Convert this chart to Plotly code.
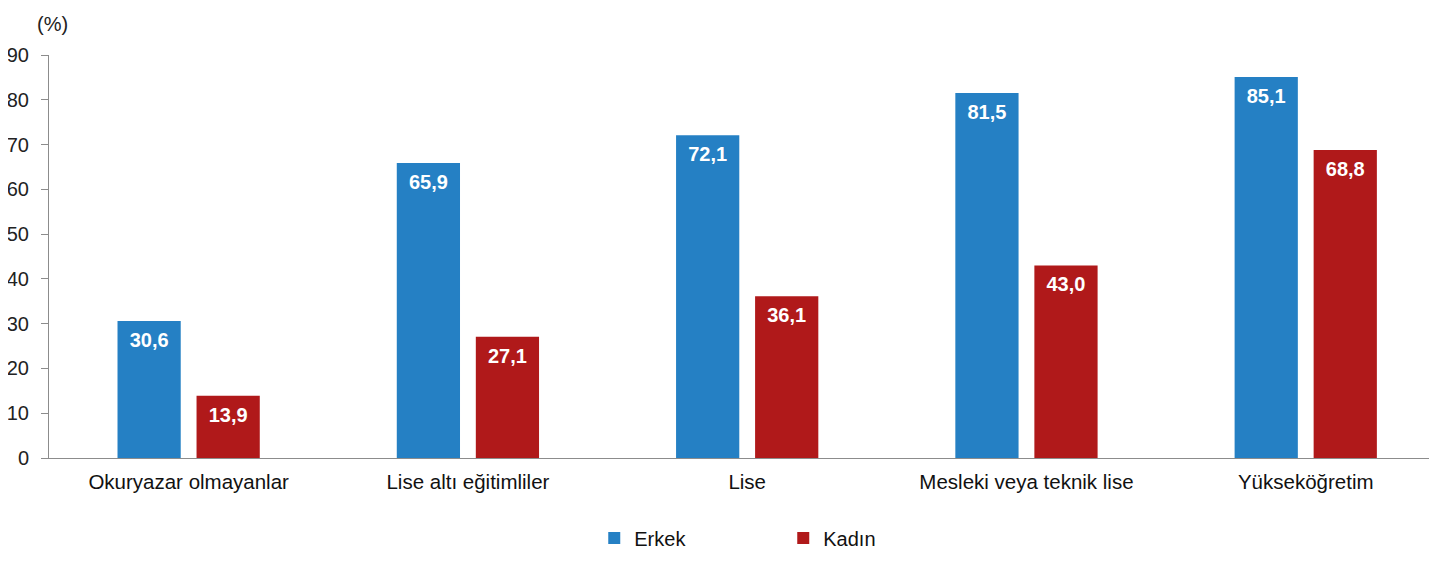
import plotly.graph_objects as go

categories = ["Okuryazar olmayanlar", "Lise altı eğitimliler", "Lise", "Mesleki veya teknik lise", "Yükseköğretim"]
erkek = [30.6, 65.9, 72.1, 81.5, 85.1]
kadin = [13.9, 27.1, 36.1, 43.0, 68.8]
y_ticks = [0, 10, 20, 30, 40, 50, 60, 70, 80, 90]

BLUE = "#2580C4"
RED = "#B0191A"
FONT = "Liberation Sans, Arial, sans-serif"

def fmt(v):
    return f"{v:.1f}".replace(".", ",")

fig = go.Figure()
for name, vals, col in [("Erkek", erkek, BLUE), ("Kadın", kadin, RED)]:
    fig.add_trace(go.Bar(
        name=name, x=categories, y=vals, marker=dict(color=col, line=dict(width=0)),
        hoverinfo="skip",
    ))
for name, vals in [("Erkek", erkek), ("Kadın", kadin)]:
    fig.add_trace(go.Scatter(
        name=name + " etiket", x=categories, y=vals, mode="markers+text",
        marker=dict(size=16, opacity=0), showlegend=False,
        text=[fmt(v) for v in vals], textposition="bottom center",
        textfont=dict(color="white", size=20, family=FONT, weight="bold"),
        hoverinfo="skip",
    ))

fig.update_layout(
    width=1429, height=556,
    margin=dict(l=41, r=0, t=47, b=106),
    paper_bgcolor="white", plot_bgcolor="white",
    barmode="group", bargap=0.434, bargroupgap=0.2,
    scattermode="group", scattergap=0.434,
    font=dict(family=FONT, size=20, color="#222222"),
    showlegend=True,
    legend=dict(orientation="h", x=0.529, xanchor="center", y=-0.1985, yanchor="middle",
                font=dict(size=20, color="#111111"), entrywidth=144, itemwidth=30,
                traceorder="normal"),
    xaxis=dict(showline=True, linecolor="#8c8c8c", linewidth=1, ticks="",
               range=[-0.5, 4.47], ticklabelstandoff=5,
               tickfont=dict(size=20.5, color="#111111"), showgrid=False),
    yaxis=dict(range=[0, 90], tickvals=y_ticks, showline=True, linecolor="#8c8c8c",
               linewidth=1, ticks="outside", ticklen=7, tickcolor="#8c8c8c",
               showgrid=False, zeroline=False, tickfont=dict(size=20, color="#222222"),
               ticklabelstandoff=8),
)
fig.add_annotation(text="(%)", xref="x domain", yref="y domain", x=0.0, y=1.0,
                   xshift=3, yshift=31, showarrow=False, xanchor="center", yanchor="middle",
                   font=dict(size=20, color="#222222"))

fig.write_html("out.html")
